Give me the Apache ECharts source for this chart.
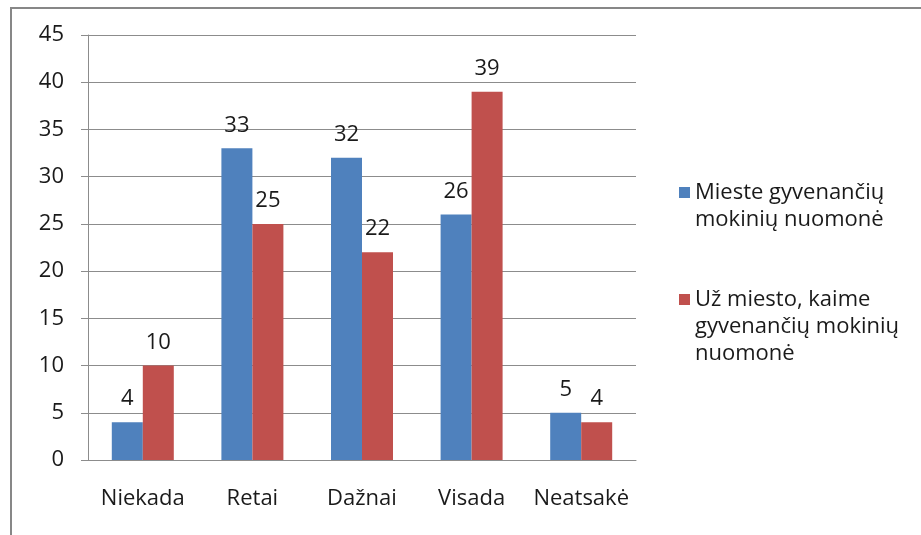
<!DOCTYPE html>
<html>
<head>
<meta charset="utf-8">
<script src="https://cdn.jsdelivr.net/npm/echarts@6/dist/echarts.min.js"></script>
<style>
  html, body { margin: 0; padding: 0; background: #fff; }
  #chart { width: 921px; height: 535px; }
</style>
</head>
<body>
<div id="chart"></div>
<script>
// duomenys
const categories = ['Niekada', 'Retai', 'Dažnai', 'Visada', 'Neatsakė']
const miesteValues = [4, 33, 32, 26, 5]
const kaimeValues = [10, 25, 22, 39, 4]
const seriesNames = ['Mieste gyvenančių mokinių nuomonė', 'Už miesto, kaime gyvenančių mokinių nuomonė']
const legendLines = [
  ['Mieste gyvenančių', 'mokinių nuomonė'],
  ['Už miesto, kaime', 'gyvenančių mokinių', 'nuomonė']
]
const yTicks = { min: 0, max: 45, interval: 5 }

const font = '"Open Sans", Lato, sans-serif'
const fs = 22
const gridColor = '#8c8c8c'

// legendos tekstas: tuščios eilutės viršuje, kad žymeklis būtų ties pirma eilute
const legendText = name => {
  const lines = legendLines[seriesNames.indexOf(name)]
  return '\n'.repeat(lines.length - 1) + lines.join('\n')
}

const myChart = echarts.init(document.getElementById('chart'))

myChart.setOption({
  animation: false,
  textStyle: { fontFamily: font },
  color: ['#4f81bd', '#c0504d'],
  grid: { left: 88, right: 285, top: 35, bottom: 75 },
  graphic: [
    {
      type: 'rect',
      shape: { x: 11, y: 8, width: 1000, height: 600 },
      style: { fill: 'none', stroke: '#878787', lineWidth: 2 },
      silent: true
    }
  ],
  legend: {
    orient: 'vertical',
    left: 674,
    top: 147,
    itemGap: -1,
    itemWidth: 11,
    itemHeight: 11,
    icon: 'rect',
    textStyle: { fontSize: fs, color: '#1a1a1a', lineHeight: 27 },
    formatter: legendText
  },
  xAxis: {
    type: 'category',
    data: categories,
    axisLine: { lineStyle: { color: gridColor } },
    axisTick: { length: 6, lineStyle: { color: gridColor } },
    axisLabel: { fontSize: fs, color: '#1a1a1a', margin: 28, interval: 0 }
  },
  yAxis: {
    type: 'value',
    min: yTicks.min,
    max: yTicks.max,
    interval: yTicks.interval,
    axisLine: { show: true, lineStyle: { color: gridColor } },
    axisTick: { show: true, length: 7, lineStyle: { color: gridColor } },
    axisLabel: { fontSize: fs, color: '#1a1a1a', margin: 24 },
    splitLine: { lineStyle: { color: gridColor } }
  },
  series: [
    {
      name: seriesNames[0],
      type: 'bar',
      data: miesteValues,
      barWidth: 31,
      barGap: '0%',
      label: { show: true, position: 'top', distance: 12, fontSize: fs, color: '#1a1a1a' }
    },
    {
      name: seriesNames[1],
      type: 'bar',
      data: kaimeValues,
      barWidth: 31,
      barGap: '0%',
      label: { show: true, position: 'top', distance: 12, fontSize: fs, color: '#1a1a1a' }
    }
  ]
})
</script>
</body>
</html>
